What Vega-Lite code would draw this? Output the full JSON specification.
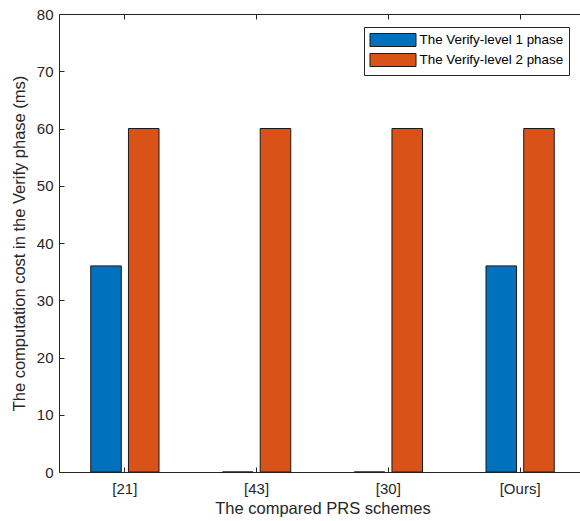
{
  "$schema": "https://vega.github.io/schema/vega-lite/v6.json",
  "width": 527,
  "height": 458,
  "autosize": {"type": "none"},
  "padding": {"left": 59, "top": 14, "right": 0, "bottom": 49},
  "background": "white",
  "data": {
    "values": [
      {"scheme": "[21]", "phase": "The Verify-level 1 phase", "cost": 36},
      {"scheme": "[21]", "phase": "The Verify-level 2 phase", "cost": 60},
      {"scheme": "[43]", "phase": "The Verify-level 1 phase", "cost": 0},
      {"scheme": "[43]", "phase": "The Verify-level 2 phase", "cost": 60},
      {"scheme": "[30]", "phase": "The Verify-level 1 phase", "cost": 0},
      {"scheme": "[30]", "phase": "The Verify-level 2 phase", "cost": 60},
      {"scheme": "[Ours]", "phase": "The Verify-level 1 phase", "cost": 36},
      {"scheme": "[Ours]", "phase": "The Verify-level 2 phase", "cost": 60}
    ]
  },
  "config": {
    "view": {"stroke": null},
    "font": "Liberation Sans",
    "axis": {
      "domainColor": "#262626",
      "tickColor": "#262626",
      "labelColor": "#262626",
      "titleColor": "#262626",
      "labelFont": "Liberation Sans",
      "titleFont": "Liberation Sans",
      "labelFontSize": 15,
      "titleFontSize": 16.5,
      "titleFontWeight": "normal",
      "grid": false,
      "domainWidth": 1,
      "tickWidth": 1
    }
  },
  "layer": [
    {
      "mark": {"type": "bar", "stroke": "#1a1a1a", "strokeWidth": 1},
      "encoding": {
        "x": {
          "field": "scheme",
          "type": "nominal",
          "sort": ["[21]", "[43]", "[30]", "[Ours]"],
          "scale": {"paddingInner": 0, "paddingOuter": 0},
          "axis": {
            "orient": "bottom",
            "title": "The compared PRS schemes",
            "labelAngle": 0,
            "tickSize": -5,
            "labelPadding": 14,
            "titlePadding": 4
          }
        },
        "xOffset": {
          "field": "phase",
          "type": "nominal",
          "scale": {"paddingInner": 0.19, "paddingOuter": 0.842}
        },
        "y": {
          "field": "cost",
          "type": "quantitative",
          "scale": {"domain": [0, 80], "nice": false},
          "axis": {
            "orient": "left",
            "title": "The computation cost in the Verify phase (ms)",
            "values": [0, 10, 20, 30, 40, 50, 60, 70, 80],
            "tickSize": -5,
            "labelPadding": 11,
            "titlePadding": 9
          }
        },
        "color": {
          "field": "phase",
          "type": "nominal",
          "scale": {"range": ["#0072BD", "#D95319"]},
          "legend": {
            "title": null,
            "orient": "none",
            "legendX": 305,
            "legendY": 13,
            "symbolType": "M-3.286,-0.93H3.286V0.93H-3.286Z",
            "symbolSize": 196,
            "symbolOffset": 16,
            "symbolStrokeColor": "#1a1a1a",
            "symbolStrokeWidth": 1,
            "symbolOpacity": 1,
            "labelFont": "Liberation Sans",
            "labelFontSize": 13.4,
            "labelColor": "#000000",
            "labelOffset": 19,
            "rowPadding": 1,
            "padding": 5.5,
            "strokeColor": "#262626",
            "fillColor": "white"
          }
        }
      }
    },
    {
      "mark": {"type": "bar", "opacity": 0},
      "encoding": {
        "x": {
          "field": "scheme",
          "type": "nominal",
          "sort": ["[21]", "[43]", "[30]", "[Ours]"],
          "axis": {"orient": "top", "title": null, "labels": false, "tickSize": -5}
        },
        "y": {
          "field": "cost",
          "type": "quantitative",
          "axis": {"orient": "right", "title": null, "labels": false, "tickSize": -5, "values": [0, 10, 20, 30, 40, 50, 60, 70, 80]}
        }
      }
    }
  ],
  "resolve": {"axis": {"x": "independent", "y": "independent"}}
}
